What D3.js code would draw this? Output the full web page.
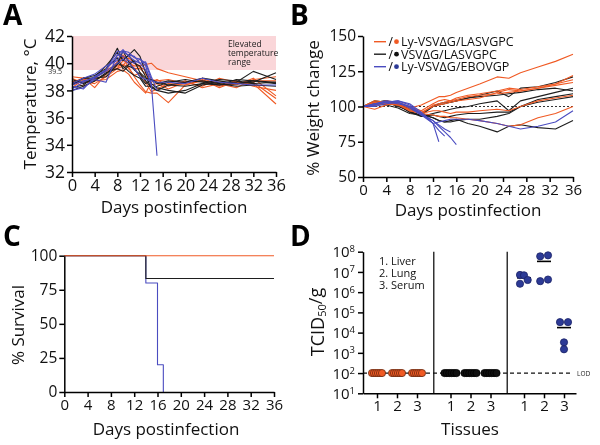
<!DOCTYPE html>
<html lang="en">
<head>
<meta charset="utf-8">
<title>Ly-VSV infection panels</title>
<style>
  body { margin: 0; background: #fff; font-family: 'Open Sans', sans-serif; }
  svg { display: block; will-change: transform; }
  .axis path, .axis line { stroke: #000; stroke-width: 1.5px; }
  .axis text { font-family: 'Open Sans', sans-serif; fill: #111; }
  .series { fill: none; stroke-width: 1.1px; stroke-linejoin: round; }
  .title { font-family: 'Open Sans', sans-serif; fill: #111; }
  .letter { font-family: 'Open Sans', sans-serif; font-weight: bold; font-size: 28px; fill: #000; }
</style>
</head>
<body>
<svg width="600" height="445"></svg>
<script src="https://d3js.org/d3.v7.min.js"></script>
<script>
// ---- groups ----
var groups = ['Ly-VSV\u0394G/LASVGPC', 'VSV\u0394G/LASVGPC', 'Ly-VSV\u0394G/EBOVGP'];
var lineColors = ['#f05a24', '#1e1e1e', '#4a4cc0'];
var dotColors = ['#f05a24', '#111111', '#2c3a96'];

// ---- A: temperature ----
var tempDays = [0, 2, 4, 6, 8, 9, 10, 11, 12, 13, 14, 15, 17, 20, 23, 26, 29, 32, 36];
var tempTicks = [32, 34, 36, 38, 40, 42];
var tempOrange = [
  [38.6, 38.9, 38.2, 39.2, 39.8, 39.9, 39.7, 39.0, 38.4, 37.9, 37.8, 37.8, 37.1, 38.4, 38.7, 38.3, 38.6, 38.5, 37.0],
  [38.9, 38.5, 39.0, 39.4, 39.6, 40.2, 40.0, 39.8, 39.8, 39.9, 40.0, 39.6, 39.3, 39.0, 38.7, 38.6, 38.4, 38.9, 37.6],
  [38.2, 38.8, 38.9, 39.5, 39.9, 40.5, 39.6, 39.1, 39.3, 38.6, 37.9, 38.1, 38.5, 38.4, 38.8, 38.2, 38.7, 38.3, 38.0],
  [38.7, 38.3, 38.7, 38.8, 39.4, 39.5, 39.2, 38.6, 38.2, 37.8, 38.6, 38.8, 38.3, 38.7, 38.2, 38.5, 38.2, 38.8, 39.0],
  [39.0, 38.9, 38.8, 39.2, 40.1, 40.6, 40.2, 39.6, 39.6, 39.2, 38.4, 38.5, 38.1, 38.6, 38.3, 38.9, 38.6, 38.6, 37.4],
  [38.4, 38.7, 38.5, 39.0, 39.6, 39.8, 40.4, 40.0, 39.7, 39.5, 38.8, 38.7, 38.8, 38.5, 38.9, 38.4, 38.5, 38.7, 38.7]
];
var tempBlack = [
  [38.4, 38.9, 38.9, 39.5, 41.1, 40.2, 40.6, 41.0, 40.5, 39.3, 38.5, 38.2, 38.0, 37.8, 38.4, 38.6, 38.6, 39.4, 38.8],
  [38.2, 38.4, 39.0, 39.8, 40.8, 40.2, 40.6, 40.0, 39.8, 39.0, 38.2, 38.0, 38.4, 38.3, 38.5, 38.4, 38.5, 38.7, 38.6],
  [38.6, 38.6, 38.7, 39.3, 39.6, 39.4, 39.8, 39.6, 39.0, 38.5, 38.8, 38.6, 38.4, 38.6, 38.9, 38.7, 38.5, 38.6, 39.3],
  [38.0, 38.3, 38.7, 39.2, 40.0, 39.8, 39.4, 39.1, 38.9, 38.3, 38.3, 38.0, 37.8, 38.0, 38.5, 38.8, 38.7, 38.5, 38.6],
  [38.5, 38.9, 39.1, 39.6, 40.4, 39.6, 39.9, 40.2, 39.3, 38.9, 38.8, 38.5, 38.7, 38.6, 38.7, 38.5, 38.3, 38.4, 38.3],
  [38.8, 38.5, 38.9, 39.0, 39.9, 40.9, 40.1, 39.5, 39.2, 38.7, 38.2, 38.3, 38.6, 38.8, 38.6, 38.4, 38.8, 38.7, 38.5]
];
var tempBlue = [
  [38.3, 38.1, 39.0, 39.5, 40.9, 40.8, 40.6, 40.5, 40.0, 39.5, 38.5, 33.2],
  [38.0, 38.2, 38.8, 38.6, 40.6, 41.0, 40.5, 40.2, 40.0, 40.1, 39.0, 38.0],
  [38.5, 38.9, 39.2, 39.8, 40.2, 40.9, 40.8, 40.4, 40.3, 40.0, 38.8],
  [38.1, 38.6, 39.0, 39.5, 40.6, 40.5, 40.2, 40.0, 40.3, 39.8, 38.3],
  [38.4, 38.7, 38.9, 39.4, 40.0, 40.3, 40.0, 39.6, 39.0, 38.8, 38.7, 38.6, 38.6, 38.5, 38.9, 38.6, 38.5, 38.4, 38.4]
];

// ---- B: weight ----
var weightDays = [0, 2, 4, 6, 8, 10, 12, 13, 14, 15, 16, 18, 20, 23, 25, 27, 30, 33, 36];
var weightTicks = [50, 75, 100, 125, 150];
var weightOrange = [
  [100, 103, 103, 102, 99, 101, 105, 107, 107, 108, 110, 113, 116, 121, 120, 124, 128, 132, 137],
  [100, 104, 103, 101, 97, 95, 101, 102, 103, 104, 105, 107, 108, 109, 110, 111, 113, 116, 122],
  [100, 102, 104, 103, 99, 96, 100, 101, 102, 103, 104, 105, 106, 110, 112, 111, 113, 115, 117],
  [100, 101, 102, 101, 98, 95, 94, 93, 93, 92, 92, 91, 90, 88, 86, 87, 92, 95, 100],
  [100, 103, 102, 102, 97, 95, 97, 97, 96, 95, 96, 96, 97, 98, 97, 100, 104, 106, 108],
  [100, 98, 101, 103, 100, 97, 102, 104, 105, 104, 106, 108, 109, 111, 113, 112, 114, 116, 119]
];
var weightBlack = [
  [100, 103, 104, 101, 96, 94, 100, 101, 102, 103, 104, 106, 108, 111, 107, 113, 114, 117, 121],
  [100, 102, 103, 100, 97, 93, 95, 96, 97, 98, 99, 100, 102, 104, 97, 104, 107, 110, 113],
  [100, 101, 102, 101, 96, 93, 94, 93, 92, 93, 94, 95, 95, 96, 96, 100, 105, 107, 109],
  [100, 103, 104, 102, 98, 95, 92, 90, 89, 89, 90, 91, 91, 93, 95, 100, 103, 105, 107],
  [100, 102, 101, 99, 95, 94, 92, 90, 89, 90, 91, 88, 86, 82, 86, 87, 85, 84, 90],
  [100, 104, 103, 102, 99, 95, 100, 102, 103, 103, 104, 106, 107, 108, 109, 110, 112, 113, 111]
];
var weightBlue = [
  [100, 101, 103, 104, 102, 96, 88, 75],
  [100, 102, 103, 104, 101, 95, 90, 86, 82, 78, 73],
  [100, 100, 102, 103, 100, 94, 90, 87, 84, 82],
  [100, 101, 103, 102, 100, 95, 88, 83, 79],
  [100, 102, 104, 103, 99, 94, 88, 89, 90, 91, 91, 91, 90, 88, 86, 84, 86, 89, 97]
];

// ---- C: survival ----
var survTicks = [0, 25, 50, 75, 100];
var survDays = [[0, 36], [0, 14, 36], [0, 14, 16, 17]];
var survValues = [[100, 100], [100, 83.3, 83.3], [100, 80, 20, 0]];

// ---- D: titers ----
var tissues = ['1', '2', '3'];
var tissueNames = ['1. Liver', '2. Lung', '3. Serum'];
var titerExp = [1, 2, 3, 4, 5, 6, 7, 8];
var lod = 100;
var titerOrange = [[100, 100, 100, 100, 100, 100], [100, 100, 100, 100, 100, 100], [100, 100, 100, 100, 100, 100]];
var titerBlack = [[100, 100, 100, 100, 100, 100], [100, 100, 100, 100, 100, 100], [100, 100, 100, 100, 100, 100]];
var titerBlue = [[7.1e6, 6.8e6, 4.0e6, 2.6e6], [5.9e7, 6.6e7, 3.5e6, 4.2e6], [3.3e4, 3.3e4, 3.3e3, 1.5e3]];

var dayTicks = d3.range(0, 37, 4);
var svg = d3.select('svg');

function styleTicks(g, size) {
  g.selectAll('text').attr('font-size', size + 'px').attr('fill', '#111');
}

function drawLines(g, days, sets, color, x, y) {
  var line = d3.line()
    .defined(function (d) { return d[1] != null; })
    .x(function (d) { return x(d[0]); })
    .y(function (d) { return y(d[1]); });
  sets.forEach(function (vals) {
    var pts = vals.map(function (v, i) { return [days[i], v]; });
    g.append('path').attr('class', 'series').attr('stroke', color).attr('d', line(pts));
  });
}

function yTitle(text, cx, cy, size) {
  return svg.append('text').attr('class', 'title')
    .attr('transform', 'translate(' + cx + ',' + cy + ') rotate(-90)')
    .attr('text-anchor', 'middle').attr('dominant-baseline', 'central')
    .attr('font-size', size + 'px').text(text);
}

function xTitle(text, cx, cy, size) {
  return svg.append('text').attr('class', 'title')
    .attr('x', cx).attr('y', cy)
    .attr('text-anchor', 'middle').attr('dominant-baseline', 'central')
    .attr('font-size', size + 'px').text(text);
}

// ================= A =================
var xA = d3.scaleLinear().domain([0, 36]).range([72, 276]);
var yA = d3.scaleLinear().domain([32, 42]).range([172, 36]);
var gA = svg.append('g');

gA.append('rect')
  .attr('x', xA(0)).attr('y', yA(42))
  .attr('width', xA(36) - xA(0)).attr('height', yA(39.5) - yA(42))
  .attr('fill', '#fad6d9');

gA.append('text').attr('x', 228).attr('font-size', '8.5px').attr('fill', '#222')
  .selectAll('tspan').data(['Elevated', 'temperature', 'range']).join('tspan')
  .attr('x', 228).attr('y', function (d, i) { return 47 + i * 9; }).text(function (d) { return d; });

drawLines(gA, tempDays, tempOrange, lineColors[0], xA, yA);
drawLines(gA, tempDays, tempBlack, lineColors[1], xA, yA);
drawLines(gA, tempDays, tempBlue, lineColors[2], xA, yA);

gA.append('g').attr('class', 'axis').attr('transform', 'translate(0,' + yA(32) + ')')
  .call(d3.axisBottom(xA).tickValues(dayTicks).tickSize(5).tickSizeOuter(0).tickPadding(2))
  .call(styleTicks, 16.5);
gA.append('g').attr('class', 'axis').attr('transform', 'translate(' + xA(0) + ',0)')
  .call(d3.axisLeft(yA).tickValues(tempTicks).tickSize(5).tickSizeOuter(0).tickPadding(2))
  .call(styleTicks, 17.5);
gA.append('text').attr('x', 62).attr('y', yA(39.5) + 1).attr('text-anchor', 'end')
  .attr('dominant-baseline', 'central').attr('font-size', '7px').attr('fill', '#333').text('39.5');

yTitle('Temperature, \u00b0C', 29, 104, 17);
xTitle('Days postinfection', 174, 206, 17);

// ================= B =================
var xB = d3.scaleLinear().domain([0, 36]).range([363, 573]);
var yB = d3.scaleLinear().domain([50, 150]).range([177, 36]);
var gB = svg.append('g');

gB.append('line')
  .attr('x1', xB(0)).attr('x2', xB(36)).attr('y1', yB(100)).attr('y2', yB(100))
  .attr('stroke', '#333').attr('stroke-width', 1.2).attr('stroke-dasharray', '2,2');

drawLines(gB, weightDays, weightBlack, lineColors[1], xB, yB);
drawLines(gB, weightDays, weightOrange, lineColors[0], xB, yB);
drawLines(gB, weightDays, weightBlue, lineColors[2], xB, yB);

gB.append('g').attr('class', 'axis').attr('transform', 'translate(0,' + yB(50) + ')')
  .call(d3.axisBottom(xB).tickValues(dayTicks).tickSize(5).tickSizeOuter(0).tickPadding(2))
  .call(styleTicks, 15);
gB.append('g').attr('class', 'axis').attr('transform', 'translate(' + xB(0) + ',0)')
  .call(d3.axisLeft(yB).tickValues(weightTicks).tickSize(5).tickSizeOuter(0).tickPadding(2))
  .call(styleTicks, 15.5);

var leg = gB.selectAll('.leg').data(groups).join('g')
  .attr('transform', function (d, i) { return 'translate(374,' + (41.7 + i * 12.5) + ')'; });
leg.append('line').attr('x1', 0).attr('x2', 12).attr('stroke-width', 1.4)
  .attr('stroke', function (d, i) { return lineColors[i]; });
leg.append('text').attr('x', 14.5).attr('dominant-baseline', 'central').attr('font-size', '12px').text('/');
leg.append('circle').attr('cx', 22.5).attr('r', 2.4).attr('fill', function (d, i) { return dotColors[i]; });
leg.append('text').attr('x', 27).attr('dominant-baseline', 'central').attr('font-size', '12.5px')
  .attr('fill', '#111').text(function (d) { return d; });

yTitle('% Weight change', 312, 108, 17);
xTitle('Days postinfection', 468, 209, 17);

// ================= C =================
var xC = d3.scaleLinear().domain([0, 36]).range([64.3, 274]);
var yC = d3.scaleLinear().domain([0, 100]).range([392, 255.7]);
var gC = svg.append('g');
var step = d3.line().curve(d3.curveStepAfter)
  .x(function (d) { return xC(d[0]); }).y(function (d) { return yC(d[1]); });
[2, 1, 0].forEach(function (k) {
  var pts = survDays[k].map(function (d, i) { return [d, survValues[k][i]]; });
  gC.append('path').attr('class', 'series').attr('stroke', lineColors[k])
    .attr('stroke-width', 1.7).attr('d', step(pts));
});
gC.append('g').attr('class', 'axis').attr('transform', 'translate(0,' + yC(0) + ')')
  .call(d3.axisBottom(xC).tickValues(dayTicks).tickSize(5).tickSizeOuter(0).tickPadding(2))
  .call(styleTicks, 15);
gC.append('g').attr('class', 'axis').attr('transform', 'translate(' + xC(0) + ',0)')
  .call(d3.axisLeft(yC).tickValues(survTicks).tickSize(5).tickSizeOuter(0).tickPadding(2))
  .call(styleTicks, 15.5);
yTitle('% Survival', 17, 325, 17);
xTitle('Days postinfection', 166, 428, 17);

// ================= D =================
var groupStep = 3.675;
var xD = d3.scaleLinear().domain([-0.7, 9.95]).range([363, 576]);
var yD = d3.scaleLog().domain([10, 1e8]).range([393.3, 251.7]);
var gD = svg.append('g');
function pos(g, t) { return g * groupStep + t; }

// separators
[0, 1].forEach(function (g) {
  var xs = xD((pos(g, 2) + pos(g + 1, 0)) / 2);
  gD.append('line').attr('x1', xs).attr('x2', xs).attr('y1', yD(1e8)).attr('y2', yD(10))
    .attr('stroke', '#333').attr('stroke-width', 1.5);
});

// LOD line
gD.append('line').attr('x1', xD(-0.7)).attr('x2', 573).attr('y1', yD(lod)).attr('y2', yD(lod))
  .attr('stroke', '#111').attr('stroke-width', 1.3).attr('stroke-dasharray', '4,3');
gD.append('text').attr('x', 577).attr('y', yD(lod)).attr('dominant-baseline', 'central')
  .attr('font-size', '6.5px').attr('fill', '#222').text('LOD');

var jitter = [
  [[-5, -3, -1, 1, 3, 5], [-5, -3, -1, 1, 3, 5], [-5, -3, -1, 1, 3, 5]],
  [[-6, -3.6, -1.2, 1.2, 3.6, 6], [-6, -3.6, -1.2, 1.2, 3.6, 6], [-6, -3.6, -1.2, 1.2, 3.6, 6]],
  [[-4, 0, 3.7, -4], [-3.8, 4, -3.8, 4], [-4, 4, 0, 0]]
];
var strokes = ['#6b2a10', '#000', '#1a2266'];
[titerOrange, titerBlack, titerBlue].forEach(function (set, g) {
  set.forEach(function (vals, t) {
    var cx = xD(pos(g, t));
    var m = d3.mean(vals);
    gD.append('line').attr('x1', cx - 7).attr('x2', cx + 7).attr('y1', yD(m)).attr('y2', yD(m))
      .attr('stroke', '#000').attr('stroke-width', 1.6);
    gD.selectAll(null).data(vals).join('circle')
      .attr('cx', function (d, i) { return cx + jitter[g][t][i]; })
      .attr('cy', function (d) { return yD(d); })
      .attr('r', 3.6)
      .attr('fill', dotColors[g]).attr('stroke', strokes[g]).attr('stroke-width', 0.8);
  });
});

var tickPos = [];
[0, 1, 2].forEach(function (g) { tissues.forEach(function (t, i) { tickPos.push(pos(g, i)); }); });
gD.append('g').attr('class', 'axis').attr('transform', 'translate(0,' + yD(10) + ')')
  .call(d3.axisBottom(xD).tickValues(tickPos).tickSize(5).tickSizeOuter(0).tickPadding(2)
    .tickFormat(function (d, i) { return tissues[i % 3]; }))
  .call(styleTicks, 15);
var yAxD = gD.append('g').attr('class', 'axis').attr('transform', 'translate(' + xD(-0.7) + ',0)')
  .call(d3.axisLeft(yD).tickValues(titerExp.map(function (e) { return Math.pow(10, e); }))
    .tickSize(5).tickSizeOuter(0).tickFormat(''));
yAxD.selectAll('.tick').each(function (d) {
  var t = d3.select(this).append('text').attr('x', -8).attr('dy', '0.35em')
    .attr('text-anchor', 'end').attr('font-size', '15px').attr('fill', '#111');
  t.append('tspan').text('10');
  t.append('tspan').attr('dy', '-0.55em').attr('font-size', '9.5px').text(Math.round(Math.log10(d)));
});

gD.append('text').attr('x', 379).attr('font-size', '11px').attr('fill', '#111')
  .selectAll('tspan').data(tissueNames).join('tspan')
  .attr('x', 379).attr('y', function (d, i) { return 265 + i * 11.8; }).text(function (d) { return d; });

var tt = svg.append('text').attr('class', 'title')
  .attr('transform', 'translate(317,322) rotate(-90)')
  .attr('text-anchor', 'middle').attr('dominant-baseline', 'central').attr('font-size', '18px');
tt.append('tspan').text('TCID');
tt.append('tspan').attr('font-size', '11px').attr('dy', '0.35em').text('50');
tt.append('tspan').attr('dy', '-0.35em').text('/g');
xTitle('Tissues', 470, 428, 17);

// ---- panel letters ----
[['A', 3, 25], ['B', 290, 25], ['C', 3, 246], ['D', 290, 246]].forEach(function (p) {
  svg.append('text').attr('class', 'letter').attr('x', p[1]).attr('y', p[2]).text(p[0]);
});
</script>
</body>
</html>
